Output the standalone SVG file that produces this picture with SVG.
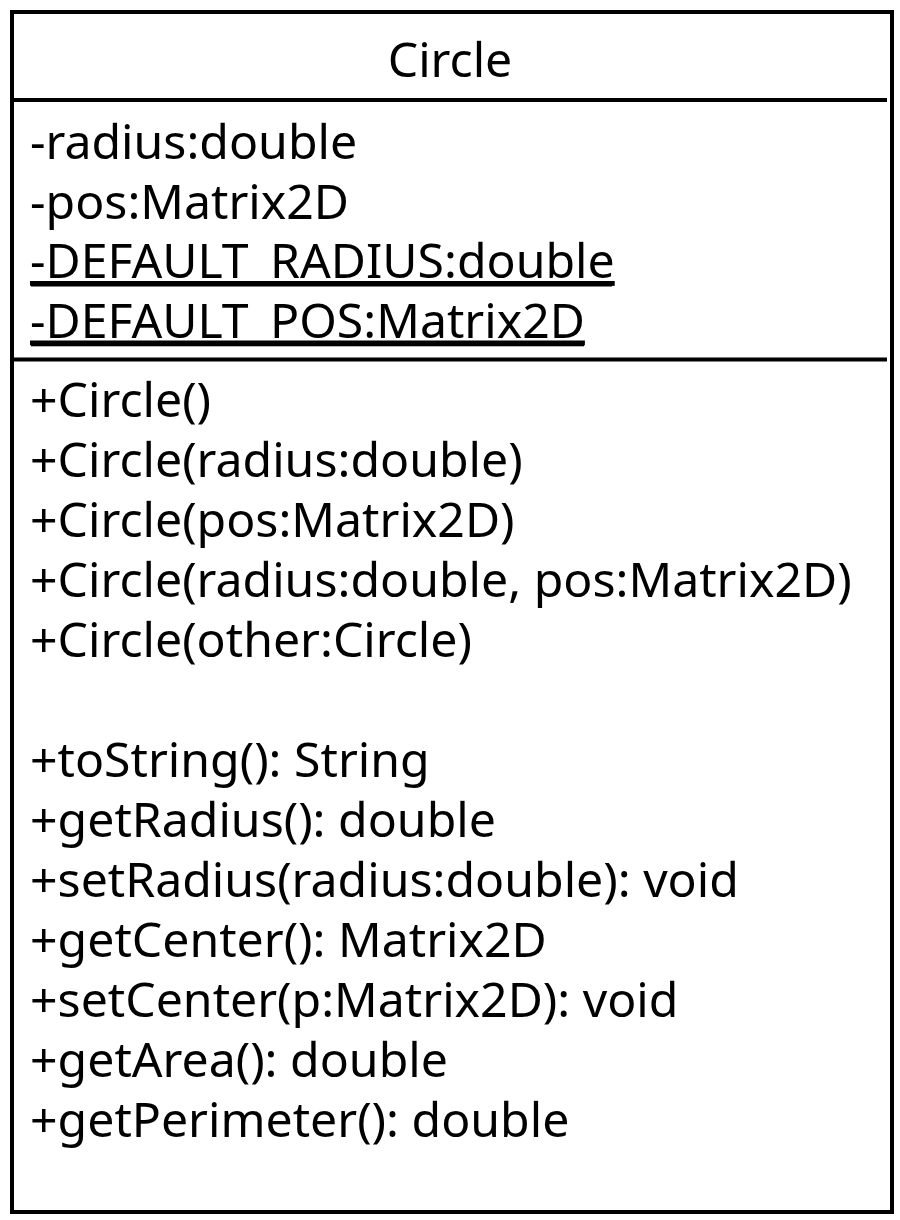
<svg xmlns="http://www.w3.org/2000/svg" width="900" height="1220" viewBox="0 0 900 1220">
  <style>
    .t { font-family: "Noto Sans", "Open Sans", "DejaVu Sans", sans-serif; font-size: 48.2px; fill: #000; }
    .u { text-decoration: underline; }
    .ln { stroke: #000; stroke-width: 4; fill: none; }
    .ul { fill: #000; }
  </style>
  <rect width="900" height="1220" fill="#fff"/>
  <g id="class-Circle">
    <rect class="ln" x="12" y="12" width="880" height="1200" fill="#fff"/>
    <line class="ln" x1="12" y1="100" x2="887" y2="100"/>
    <line class="ln" x1="12" y1="359.5" x2="887" y2="359.5"/>
    <text class="t" x="450" y="77" text-anchor="middle">Circle</text>
    <g id="attributes">
      <text class="t" x="30" y="159">-radius:double</text>
      <text class="t" x="30" y="219">-pos:Matrix2D</text>
      <text class="t u" x="30" y="278">-DEFAULT_RADIUS:double</text>
      <text class="t u" x="30" y="337.5">-DEFAULT_POS:Matrix2D</text>
      <rect class="ul" x="31" y="282" width="581" height="4.5"/>
      <rect class="ul" x="31" y="341.8" width="553" height="4.5"/>
    </g>
    <g id="methods">
      <text class="t" x="30" y="417">+Circle()</text>
      <text class="t" x="30" y="477">+Circle(radius:double)</text>
      <text class="t" x="30" y="537">+Circle(pos:Matrix2D)</text>
      <text class="t" x="30" y="597">+Circle(radius:double, pos:Matrix2D)</text>
      <text class="t" x="30" y="657">+Circle(other:Circle)</text>
      <text class="t" x="30" y="777">+toString(): String</text>
      <text class="t" x="30" y="837">+getRadius(): double</text>
      <text class="t" x="30" y="897">+setRadius(radius:double): void</text>
      <text class="t" x="30" y="957">+getCenter(): Matrix2D</text>
      <text class="t" x="30" y="1017">+setCenter(p:Matrix2D): void</text>
      <text class="t" x="30" y="1077">+getArea(): double</text>
      <text class="t" x="30" y="1137">+getPerimeter(): double</text>
    </g>
  </g>
  <g id="connectors"/>
</svg>
